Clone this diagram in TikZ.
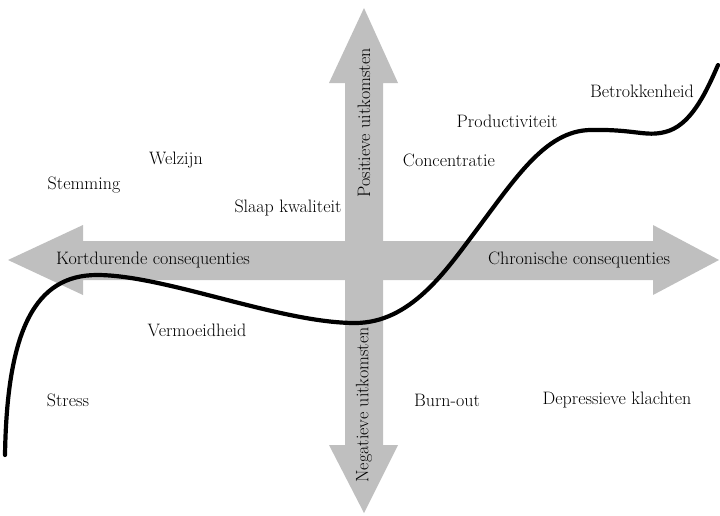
\documentclass[tikz,border=0pt]{standalone}
\begin{document}
\begin{tikzpicture}[x=1pt,y=-1pt,
  lbl/.style={font=\fontsize{18}{21}\selectfont, inner sep=0pt, anchor=center},
  band/.style={fill=black!25, draw=none},
  wave/.style={line width=4.2pt, line cap=round}]
\useasboundingbox (0,0) rectangle (720,515);
% horizontal arrow
\fill[band] (8,260) -- (83,225) -- (83,241) -- (653,241) -- (653,225) -- (719,260)
  -- (653,295) -- (653,280) -- (83,280) -- (83,295) -- cycle;
% vertical arrow
\fill[band] (364,8) -- (398,83) -- (383,83) -- (383,445) -- (398,445) -- (364,513)
  -- (329,445) -- (345,445) -- (345,83) -- (329,83) -- cycle;
% axis labels
\node[lbl] (kort) at (153,260) {Kortdurende consequenties};
\node[lbl] (chron) at (579,260) {Chronische consequenties};
\node[lbl, rotate=90] (pos) at (364,123) {Positieve uitkomsten};
\node[lbl, rotate=90] (neg) at (364,405) {Negatieve uitkomsten};
% curve
\draw[wave] (5,455) .. controls (7,330) and (35,275) .. (97,275)
  .. controls (165,275) and (280,323) .. (355,323)
  .. controls (410,323) and (445,272) .. (475,232)
  .. controls (515,179) and (545,131) .. (590,130)
  .. controls (635,129) and (645,137) .. (665,132)
  .. controls (690,126) and (705,95) .. (718,65);
% labels
\node[lbl] (welzijn) at (176,160) {Welzijn};
\node[lbl] (stemming) at (84,185) {Stemming};
\node[lbl] (slaap) at (288,208) {Slaap kwaliteit};
\node[lbl] (concentratie) at (449,160) {Concentratie};
\node[lbl] (productiviteit) at (507,121) {Productiviteit};
\node[lbl] (betrokkenheid) at (642,91) {Betrokkenheid};
\node[lbl] (vermoeidheid) at (197,330) {Vermoeidheid};
\node[lbl] (stress) at (68,400) {Stress};
\node[lbl] (burnout) at (447,400) {Burn-out};
\node[lbl] (depressief) at (617,400) {Depressieve klachten};
\end{tikzpicture}
\end{document}
